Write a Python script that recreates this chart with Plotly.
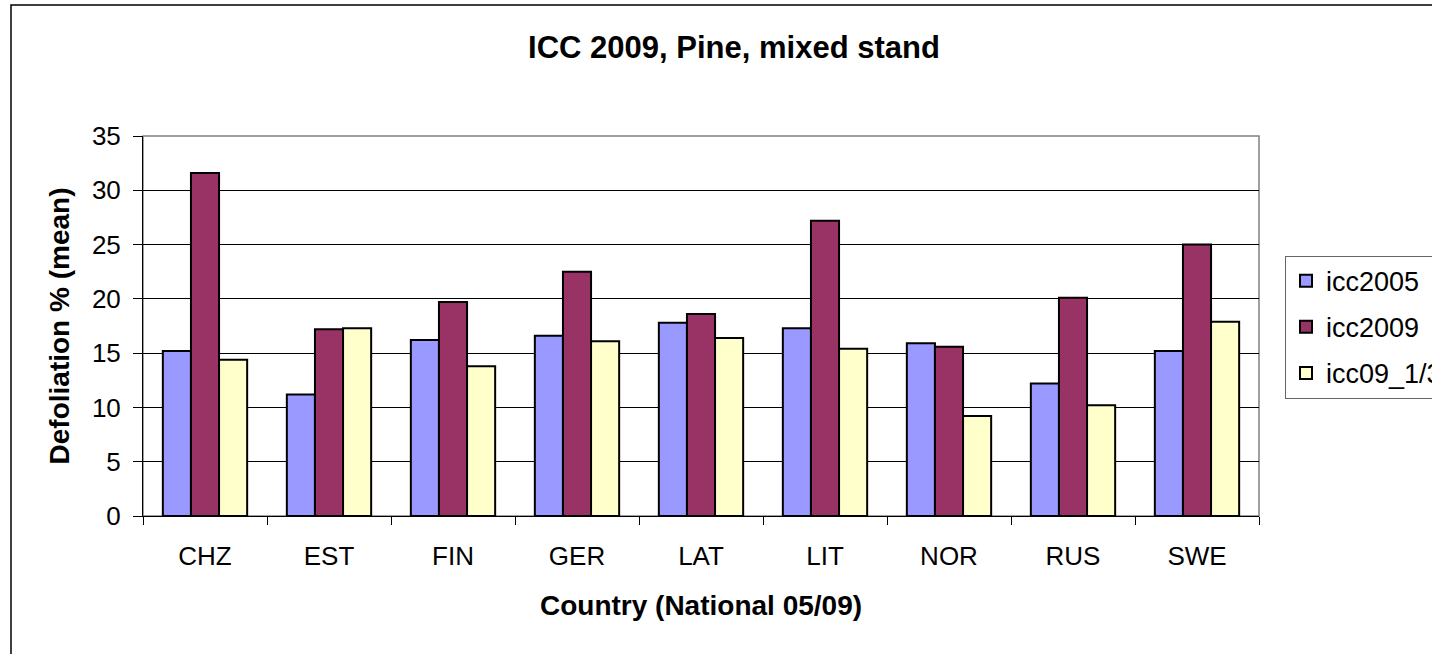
import plotly.graph_objects as go

# Data
countries = ["CHZ", "EST", "FIN", "GER", "LAT", "LIT", "NOR", "RUS", "SWE"]
icc2005 = [15.2, 11.2, 16.2, 16.6, 17.8, 17.3, 15.9, 12.2, 15.2]
icc2009 = [31.6, 17.2, 19.7, 22.5, 18.6, 27.2, 15.6, 20.1, 25.0]
icc09_13 = [14.4, 17.3, 13.8, 16.1, 16.4, 15.4, 9.2, 10.2, 17.9]

series = [
    ("icc2005", icc2005, "#9999FF"),
    ("icc2009", icc2009, "#993366"),
    ("icc09_1/3", icc09_13, "#FFFFCC"),
]

FONT = "Liberation Sans, Arial, sans-serif"

fig = go.Figure()
for name, vals, color in series:
    fig.add_trace(go.Bar(
        x=countries, y=vals, name=name, legendgroup=name,
        marker=dict(color=color, line=dict(color="black", width=2)),
    ))

fig.update_layout(
    width=1432, height=654,
    paper_bgcolor="white", plot_bgcolor="white",
    font=dict(family=FONT, size=26, color="black"),
    margin=dict(l=143, r=173, t=136, b=138, autoexpand=False),
    barmode="group", bargap=0.32, bargroupgap=0,
    title=dict(text="<b>ICC 2009, Pine, mixed stand</b>", font=dict(size=31),
               x=734 / 1432, xref="container", xanchor="center",
               y=1 - 47 / 654, yref="container", yanchor="middle"),
    legend=dict(x=1.0233, xanchor="left", y=0.685, yanchor="top",
                bgcolor="white", bordercolor="#666666", borderwidth=1,
                font=dict(size=27), tracegroupgap=8),
    showlegend=True,
)

fig.update_xaxes(
    showline=True, linecolor="black", linewidth=1,
    ticks="outside", tickson="boundaries", ticklen=8, tickcolor="black",
    ticklabelstandoff=17, showgrid=False,
    title=dict(text="<b>Country (National 05/09)</b>", font=dict(size=28), standoff=25),
)
fig.update_yaxes(
    range=[0, 35], dtick=5,
    showline=True, linecolor="black", linewidth=1,
    ticks="outside", ticklen=9, tickcolor="black", ticklabelstandoff=7,
    showgrid=True, gridcolor="black", gridwidth=1, zeroline=False,
    title=dict(text="<b>Defoliation % (mean)</b>", font=dict(size=28), standoff=14),
)

# grey plot-area frame (top/right) and outer chart border
fig.add_shape(type="rect", xref="paper", yref="paper", x0=0, x1=1, y0=0, y1=1,
              line=dict(color="#808080", width=1.5), layer="between")
fig.add_shape(type="rect", xref="paper", yref="paper",
              x0=(11 - 143) / 1116, x1=2, y0=-1, y1=(516 - 5) / 380,
              line=dict(color="black", width=1.5), layer="above")

# page body margin off so the figure sits at the window's top-left corner
fig.write_html("out.html", config={"displayModeBar": False},
               post_script="document.body.style.margin = '0';")
